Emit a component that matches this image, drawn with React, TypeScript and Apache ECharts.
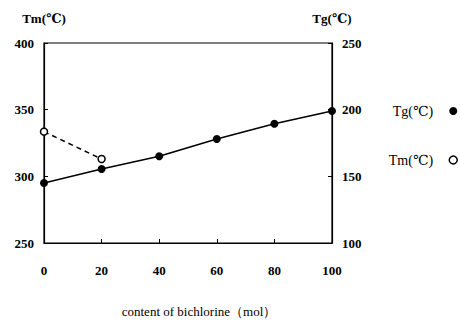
import React, { useEffect, useRef } from "react";
import * as echarts from "echarts";

const xContent = [0, 20, 40, 60, 80, 100];
const tgValues = [145, 155.5, 165, 178, 189.5, 199];
const tmX = [0, 20];
const tmValues = [333.5, 313];
const xTicks = [0, 20, 40, 60, 80, 100];
const leftTicks = [250, 300, 350, 400];
const rightTicks = [100, 150, 200, 250];

const FONT = "'Liberation Serif', 'DejaVu Serif', serif";

export default function App() {
  const ref = useRef<HTMLDivElement>(null);
  useEffect(() => {
    if (!ref.current) return;
    const chart = echarts.init(ref.current, null, { renderer: "svg" });
    const axisText = { color: "#000", fontFamily: FONT, fontSize: 13, fontWeight: "bold" as const };
    chart.setOption({
      animation: false,
      backgroundColor: "#fff",
      grid: { left: 44, right: 128, top: 43, bottom: 72, show: true, borderColor: "#000", borderWidth: 1.2 },
      legend: {
        orient: "vertical",
        right: 2,
        top: 104,
        padding: 0,
        align: "right",
        itemGap: 35,
        itemWidth: 8,
        itemHeight: 8,
        textStyle: { ...axisText, fontSize: 14, fontWeight: "normal", padding: [0, 11, 0, 0] },
        data: [
          { name: "Tg(℃)", icon: "circle", itemStyle: { color: "#000", borderColor: "#000" } },
          { name: "Tm(℃)", icon: "circle", itemStyle: { color: "#fff", borderColor: "#000", borderWidth: 1.5 } },
        ],
      },
      xAxis: {
        type: "value",
        min: xTicks[0],
        max: xTicks[xTicks.length - 1],
        interval: 20,
        name: "content of bichlorine（mol）",
        nameLocation: "middle",
        nameGap: 62,
        nameTextStyle: { color: "#000", fontFamily: FONT, fontSize: 13, padding: [0, 0, 0, 22] },
        axisLine: { lineStyle: { color: "#000", width: 1.2 } },
        axisTick: { inside: true, length: 4, lineStyle: { color: "#000" } },
        axisLabel: { ...axisText, margin: 21 },
        splitLine: { show: false },
      },
      yAxis: [
        {
          type: "value",
          min: leftTicks[0],
          max: leftTicks[leftTicks.length - 1],
          interval: 50,
          position: "left",
          name: "Tm(℃)",
          nameLocation: "end",
          nameGap: 18,
          nameTextStyle: { ...axisText, fontSize: 13 },
          axisLine: { show: true, lineStyle: { color: "#000", width: 1.2 } },
          axisTick: { show: true, inside: true, length: 4, lineStyle: { color: "#000" } },
          axisLabel: { ...axisText, margin: 10 },
          splitLine: { show: false },
        },
        {
          type: "value",
          min: rightTicks[0],
          max: rightTicks[rightTicks.length - 1],
          interval: 50,
          position: "right",
          name: "Tg(℃)",
          nameLocation: "end",
          nameGap: 18,
          nameTextStyle: { ...axisText, fontSize: 13 },
          axisLine: { show: true, lineStyle: { color: "#000", width: 1.2 } },
          axisTick: { show: true, inside: true, length: 4, lineStyle: { color: "#000" } },
          axisLabel: { ...axisText, margin: 10 },
          splitLine: { show: false },
        },
      ],
      series: [
        {
          name: "Tg(℃)",
          type: "line",
          yAxisIndex: 1,
          data: xContent.map((x, i) => [x, tgValues[i]]),
          symbol: "circle",
          symbolSize: 8,
          itemStyle: { color: "#000" },
          lineStyle: { color: "#000", width: 1.6 },
        },
        {
          name: "Tm(℃)",
          type: "line",
          yAxisIndex: 0,
          data: tmX.map((x, i) => [x, tmValues[i]]),
          symbol: "circle",
          symbolSize: 7,
          itemStyle: { color: "#fff", borderColor: "#000", borderWidth: 1.5 },
          lineStyle: { color: "#000", width: 1.5, type: [5, 4] },
          z: 3,
        },
      ],
    });
    return () => chart.dispose();
  }, []);
  return <div ref={ref} style={{ width: 460, height: 323, position: "absolute", left: 0, top: 0 }} />;
}
